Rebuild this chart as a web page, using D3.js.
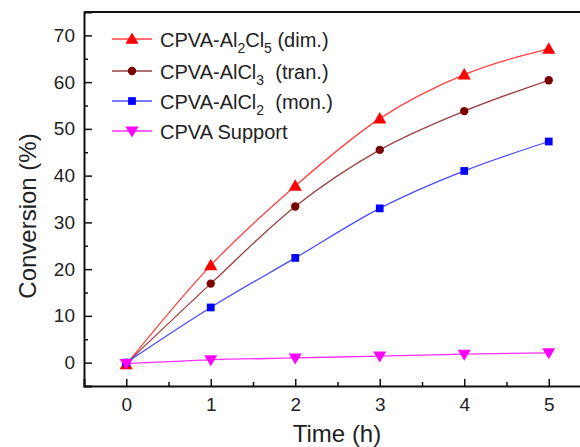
<!DOCTYPE html>
<html><head><meta charset="utf-8">
<script src="https://cdn.jsdelivr.net/npm/d3@7"></script>
<style>body{margin:0;background:#fff;}svg{display:block;font-family:Arial,"Liberation Sans",sans-serif;}</style>
</head><body><svg id="c" width="580" height="447"></svg>
<script>
const times = [0, 1, 2, 3, 4, 5];
const dimer = [-0.4, 20.8, 37.8, 52.2, 61.6, 67.1];
const tran = [-0.2, 16.9, 33.4, 45.5, 53.8, 60.4];
const mono = [0.0, 11.8, 22.4, 33.0, 41.0, 47.3];
const support = [-0.2, 0.6, 1.0, 1.4, 1.8, 2.1];
const xTicks = [0, 1, 2, 3, 4, 5];
const yTicks = [0, 10, 20, 30, 40, 50, 60, 70];

const series = [
  {name: [["CPVA-Al",0],["2",1],["Cl",0],["5",1],[" (dim.)",0]], values: dimer, line: "#ff4040", fill: "#ff0000", sym: "tri"},
  {name: [["CPVA-AlCl",0],["3",1],["  (tran.)",0]], values: tran, line: "#9a4040", fill: "#7a0000", sym: "circle"},
  {name: [["CPVA-AlCl",0],["2",1],["  (mon.)",0]], values: mono, line: "#4a4aff", fill: "#0000ff", sym: "square"},
  {name: [["CPVA Support",0]], values: support, line: "#ff30ff", fill: "#ff00ff", sym: "down"}
];

const svg = d3.select("#c");
const L = 84, T = 12, B = 386, R = 591;
const x = d3.scaleLinear().domain([-0.5, 5.5]).range([L, R]);
const y = d3.scaleLinear().domain([-5, 75]).range([B, T]);

function symPath(s) {
  if (s === "tri") return d3.symbol(d3.symbolTriangle, 75)();
  if (s === "circle") return d3.symbol(d3.symbolCircle, 55)();
  if (s === "square") return d3.symbol(d3.symbolSquare, 60)();
  if (s === "down") return "M-6.5,-4.5L6.5,-4.5L0,6.5Z";
}

// series
const line = d3.line().x((d,i)=>x(times[i])).y(d=>y(d)).curve(d3.curveMonotoneX);
series.forEach(s => {
  svg.append("path").attr("d", line(s.values)).attr("fill","none").attr("stroke", s.line).attr("stroke-width",1.3);
});
series.forEach(s => {
  svg.selectAll(null).data(s.values).enter().append("path")
    .attr("d", symPath(s.sym))
    .attr("transform",(d,i)=>`translate(${x(times[i])},${y(d) + (s.sym==="tri"?1:0)})`)
    .attr("fill", s.fill);
});

// axes (ticks inward)
svg.append("g").attr("transform",`translate(0,${B})`)
  .call(d3.axisBottom(x).tickValues(xTicks).tickSize(-7).tickPadding(12).tickFormat(d3.format("d")));
svg.append("g").attr("transform",`translate(0,${B})`)
  .call(d3.axisBottom(x).tickValues([0.5,1.5,2.5,3.5,4.5]).tickSize(-4).tickFormat(""))
  .call(g=>g.select(".domain").remove());
svg.append("g").attr("transform",`translate(${L},0)`)
  .call(d3.axisLeft(y).tickValues(yTicks).tickSize(-8).tickPadding(9).tickFormat(d3.format("d")));
svg.append("g").attr("transform",`translate(${L},0)`)
  .call(d3.axisLeft(y).tickValues([5,15,25,35,45,55,65]).tickSize(-4).tickFormat(""))
  .call(g=>g.select(".domain").remove());
svg.selectAll(".domain").attr("stroke","#111").attr("stroke-width",2);
svg.selectAll(".tick line").attr("stroke","#111").attr("stroke-width",1.5);
svg.selectAll(".tick text").attr("font-size",19).attr("fill","#222").attr("font-family","Arial, 'Liberation Sans', sans-serif");
// frame top / right
svg.append("line").attr("x1",L).attr("x2",R).attr("y1",T).attr("y2",T).attr("stroke","#111").attr("stroke-width",2);
svg.append("line").attr("x1",R).attr("x2",R).attr("y1",T).attr("y2",B).attr("stroke","#111").attr("stroke-width",2);

// axis titles
svg.append("text").attr("x",337).attr("y",442).attr("text-anchor","middle").attr("font-size",24).attr("fill","#222").text("Time (h)");
svg.append("text").attr("transform","translate(36,216) rotate(-90)").attr("text-anchor","middle").attr("font-size",24).attr("fill","#222").text("Conversion (%)");

// legend
const legY = [39, 71, 101, 131];
series.forEach((s,i) => {
  const g = svg.append("g").attr("transform",`translate(0,${legY[i]})`);
  g.append("line").attr("x1",112).attr("x2",152).attr("stroke",s.line).attr("stroke-width",1.3);
  g.append("path").attr("d",symPath(s.sym)).attr("transform",`translate(132,${s.sym==="tri"?1:0})`).attr("fill",s.fill);
  const t = g.append("text").attr("x",160).attr("y",8).attr("font-size",20).attr("fill","#222").style("white-space","pre");
  let prevSub = false;
  s.name.forEach(([txt,sub]) => {
    const ts = t.append("tspan").text(txt);
    if (sub) ts.attr("font-size",14);
    if (sub && !prevSub) ts.attr("dy",6);
    else if (!sub && prevSub) ts.attr("dy",-6);
    prevSub = !!sub;
  });
});
</script></body></html>
